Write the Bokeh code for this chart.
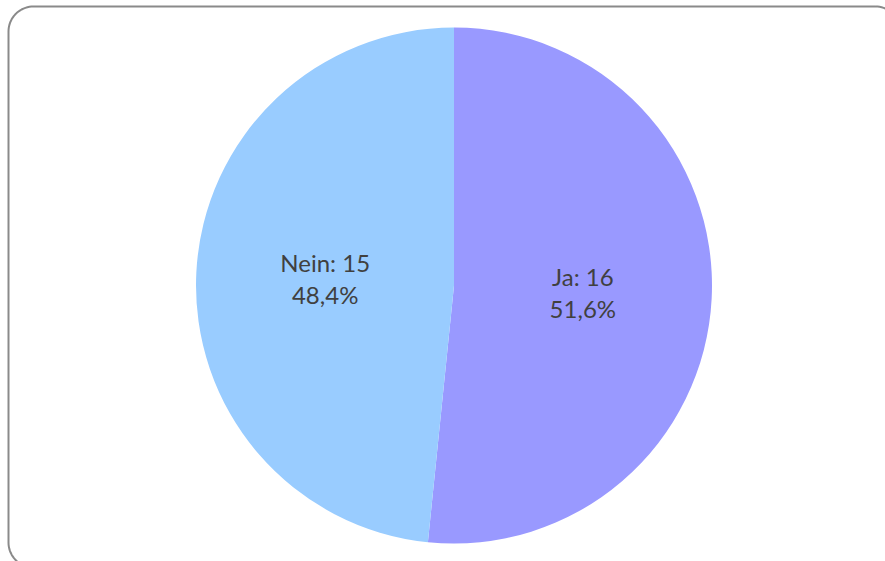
import numpy as np
from bokeh.plotting import figure
from bokeh.models import Range1d, ColumnDataSource
from bokeh.core.properties import value
from bokeh.embed import file_html
from bokeh.resources import INLINE

# ---- data ----
categories = ["Ja", "Nein"]
counts = [16, 15]
colors = ["#9999FF", "#99CCFF"]

# ---- layout (screen-like coordinates: x = pixel x, y = 561 - pixel y) ----
W, H = 885, 561
p = figure(width=W, height=H, output_backend="svg", toolbar_location=None,
           x_range=Range1d(0, 885), y_range=Range1d(0, 561),
           min_border=0, border_fill_color="white", background_fill_color="white")
p.axis.visible = False
p.grid.visible = False
p.outline_line_color = None

# rounded border box (decoration)
def rounded_box(x0, y0, x1, y1, r, n=20):
    xs, ys = [], []
    corners = [((x1 - r, y0 + r), 90, 0), ((x1 - r, y1 - r), 0, -90),
               ((x0 + r, y1 - r), -90, -180), ((x0 + r, y0 + r), 180, 90)]
    for (ccx, ccy), a0, a1 in corners:
        for a in np.linspace(np.radians(a0), np.radians(a1), n):
            xs.append(ccx + r * np.cos(a))
            ys.append(ccy - r * np.sin(a))
    xs.append(xs[0]); ys.append(ys[0])
    return xs, [561 - y for y in ys]

bx, by = rounded_box(8, 6, 900, 567, 25)
p.line(bx, by, line_color="#8a8a8a", line_width=2)

# pie
cx, cy, R = 453.5, 561 - 285, 258
total = sum(counts)
fracs = np.array(counts) / total
starts, ends, mids = [], [], []
a = np.pi / 2
for f in fracs:
    e = a - f * 2 * np.pi
    starts.append(e); ends.append(a); mids.append((a + e) / 2)
    a = e

src = ColumnDataSource(dict(start=starts, end=ends, color=colors))
p.wedge(x=cx, y=cy, radius=R, start_angle="start", end_angle="end",
        fill_color="color", line_color=None, source=src)

lab1 = [f"{c}: {n}" for c, n in zip(categories, counts)]
lab2 = [f"{100*f:.1f}%".replace(".", ",") for f in fracs]
lx = [cx + 0.5 * R * np.cos(m) for m in mids]
ly = [cy + 0.5 * R * np.sin(m) for m in mids]
tsrc = ColumnDataSource(dict(x=lx, y=ly, t1=lab1, t2=lab2))
for col, off in (("t1", -16), ("t2", 16)):
    p.text(x="x", y="y", text=col, source=tsrc, text_align="center",
           text_baseline="middle", y_offset=off, text_font=value("Lato"),
           text_font_size="24px", text_color="#404040")

open("out.html", "w").write(file_html(p, INLINE))
